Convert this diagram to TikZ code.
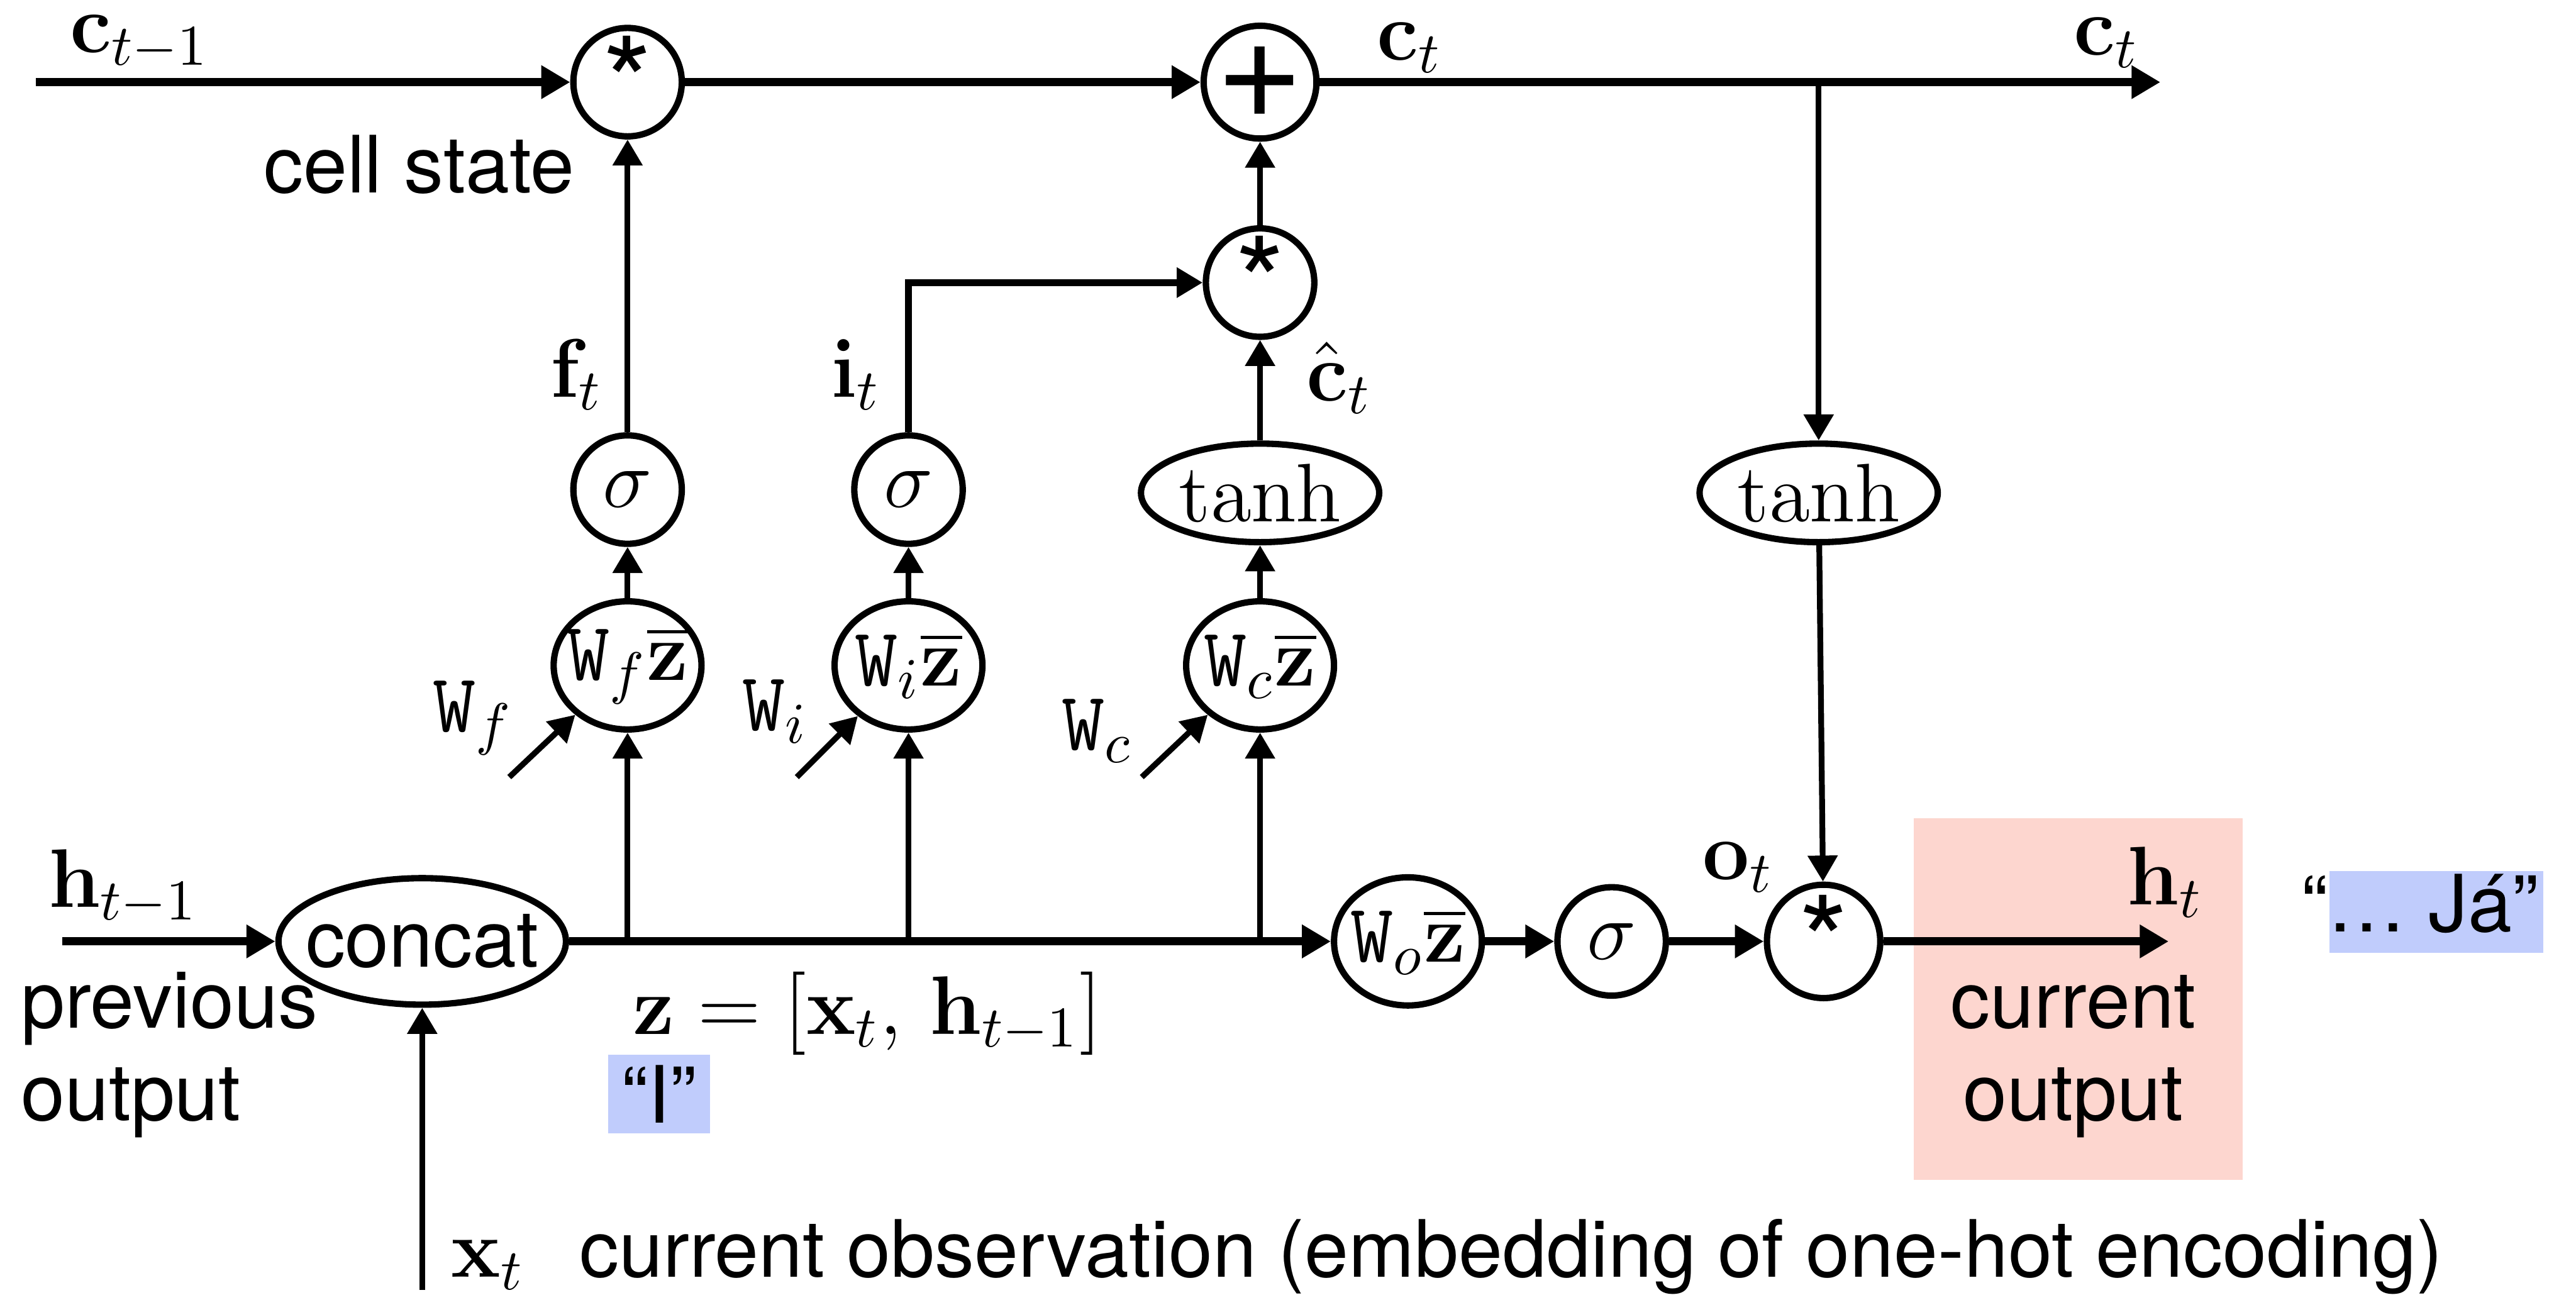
\documentclass[tikz,border=0pt]{standalone}
\usepackage{amsmath,amssymb}
\usepackage[no-math]{fontspec}
\setsansfont{TeX Gyre Heros}
\usepackage{tikz}
\usetikzlibrary{arrows.meta,positioning,calc,shapes.geometric}

\definecolor{outpink}{RGB}{253,214,207}
\definecolor{wordblue}{RGB}{192,204,252}

\newcommand{\opstar}{\raisebox{-0.45ex}{\sffamily\fontsize{22}{22}\selectfont *}}
\newcommand{\opplus}{\sffamily\fontsize{26}{26}\selectfont +}

\begin{document}
\begin{tikzpicture}[
  op/.style={draw, circle, line width=1.1pt, minimum size=0.66cm, inner sep=0pt, font=\Large},
  lin/.style={draw, ellipse, line width=1.1pt, minimum width=0.9cm,
              minimum height=0.78cm, inner sep=-1.5pt, font=\Large},
  act/.style={draw, ellipse, line width=1.1pt, minimum width=1.45cm,
              minimum height=0.6cm, inner sep=0pt, font=\Large},
  cat/.style={draw, ellipse, line width=1.1pt, minimum width=1.75cm,
              minimum height=0.77cm, inner sep=-3pt, font=\sffamily\fontsize{13.7}{16}\selectfont},
  lbl/.style={font=\Large, inner sep=0pt},
  txt/.style={font=\sffamily\fontsize{13.7}{16}\selectfont, inner sep=0pt},
  arr/.style={-{Triangle[length=4.5pt,width=5pt]}, line width=1pt},
  harr/.style={-{Triangle[length=5pt,width=5.5pt]}, line width=1.4pt}
]
  \useasboundingbox (0,0) rectangle (15.68,-7.91);

  \node[fill=outpink, minimum width=2.00cm, minimum height=2.20cm] (outbox) at (12.65,-6.08) {};
  \node[fill=wordblue, minimum width=1.30cm, minimum height=0.50cm] (wordout) at (14.83,-5.55) {};
  \node[fill=wordblue, minimum width=0.62cm, minimum height=0.48cm] (wordin) at (4.01,-6.66) {};

  \node[op] (mulf) at (3.82,-0.50) {\opstar};
  \node[op] (add) at (7.67,-0.50) {\opplus};
  \node[op] (muli) at (7.67,-1.72) {\opstar};
  \node[op] (sigf) at (3.82,-2.98) {$\sigma$};
  \node[op] (sigi) at (5.53,-2.98) {$\sigma$};
  \node[act] (tanc) at (7.67,-3.00) {$\tanh$};
  \node[act] (tanh) at (11.07,-3.00) {$\tanh$};
  \node[lin] (wf) at (3.82,-4.05) {$\mathtt{W}_{f}\overline{\mathbf{z}}$};
  \node[lin] (wi) at (5.53,-4.05) {$\mathtt{W}_{i}\overline{\mathbf{z}}$};
  \node[lin] (wc) at (7.67,-4.05) {$\mathtt{W}_{c}\overline{\mathbf{z}}$};
  \node[cat] (concat) at (2.57,-5.73) {concat};
  \node[lin] (wo) at (8.57,-5.73) {$\mathtt{W}_{o}\overline{\mathbf{z}}$};
  \node[op] (sigo) at (9.81,-5.73) {$\sigma$};
  \node[op, minimum size=0.69cm] (mulo) at (11.10,-5.73) {\opstar};

  \coordinate (cin) at (0.22,-0.50);
  \coordinate (cout) at (13.15,-0.50);
  \coordinate (tap) at (11.07,-0.50);
  \coordinate (hin) at (0.38,-5.73);
  \coordinate (hout) at (13.20,-5.73);
  \coordinate (xin) at (2.57,-7.85);
  \coordinate (bf) at (3.82,-5.73);
  \coordinate (bi) at (5.53,-5.73);
  \coordinate (bc) at (7.67,-5.73);
  \coordinate (wfin) at (3.10,-4.73);
  \coordinate (wiin) at (4.85,-4.73);
  \coordinate (wcin) at (6.95,-4.73);

  \draw[harr] (cin) -- (mulf);
  \draw[harr] (mulf) -- (add);
  \draw[harr] (add) -- (cout);
  \draw[arr] (tap) -- (tanh);
  \draw[arr] (tanh) -- (mulo);

  \draw[arr] (bf) -- (wf);
  \draw[arr] (wf) -- (sigf);
  \draw[arr] (sigf) -- (mulf);
  \draw[arr] (bi) -- (wi);
  \draw[arr] (wi) -- (sigi);
  \draw[arr, line width=1.2pt] (sigi) |- (muli);
  \draw[arr] (bc) -- (wc);
  \draw[arr] (wc) -- (tanc);
  \draw[arr] (tanc) -- (muli);
  \draw[arr] (muli) -- (add);
  \draw[arr] (wfin) -- (wf);
  \draw[arr] (wiin) -- (wi);
  \draw[arr] (wcin) -- (wc);

  \draw[harr] (hin) -- (concat);
  \draw[harr] (concat) -- (wo);
  \draw[harr] (wo) -- (sigo);
  \draw[harr] (sigo) -- (mulo);
  \draw[harr] (mulo) -- (hout);
  \draw[arr] (xin) -- (concat);

  \node[lbl] (lcprev) at (0.85,-0.26) {$\mathbf{c}_{t-1}$};
  \node[txt] (lcell) at (2.55,-1.00) {cell state};
  \node[lbl] (lct) at (8.58,-0.29) {$\mathbf{c}_t$};
  \node[lbl] (lctout) at (12.82,-0.26) {$\mathbf{c}_t$};
  \node[lbl] (lf) at (3.51,-2.28) {$\mathbf{f}_t$};
  \node[lbl] (li) at (5.21,-2.28) {$\mathbf{i}_t$};
  \node[lbl] (lchat) at (8.15,-2.30) {$\hat{\mathbf{c}}_t$};
  \node[lbl] (lwf) at (2.88,-4.37) {$\mathtt{W}_{f}$};
  \node[lbl] (lwi) at (4.72,-4.33) {$\mathtt{W}_{i}$};
  \node[lbl] (lwc) at (6.68,-4.45) {$\mathtt{W}_{c}$};
  \node[lbl] (lhprev) at (0.75,-5.40) {$\mathbf{h}_{t-1}$};
  \node[txt, align=left, anchor=west] (lprev) at (0.12,-6.42) {previous\\output};
  \node[lbl] (lz) at (5.28,-6.17) {$\mathbf{z}=[\mathbf{x}_t,\,\mathbf{h}_{t-1}]$};
  \node[txt] (lwin) at (wordin) {“I”};
  \node[lbl] (lo) at (10.58,-5.28) {$\mathbf{o}_t$};
  \node[lbl] (lht) at (13.18,-5.37) {$\mathbf{h}_t$};
  \node[txt, align=center] (lcur) at (12.62,-6.43) {current\\output};
  \node[txt, anchor=west] (lwout) at (14.00,-5.50) {“… Já”};
  \node[lbl] (lx) at (2.97,-7.70) {$\mathbf{x}_t$};
  \node[txt, anchor=west] (lobs) at (3.52,-7.65) {current observation (embedding of one-hot encoding)};
\end{tikzpicture}
\end{document}
